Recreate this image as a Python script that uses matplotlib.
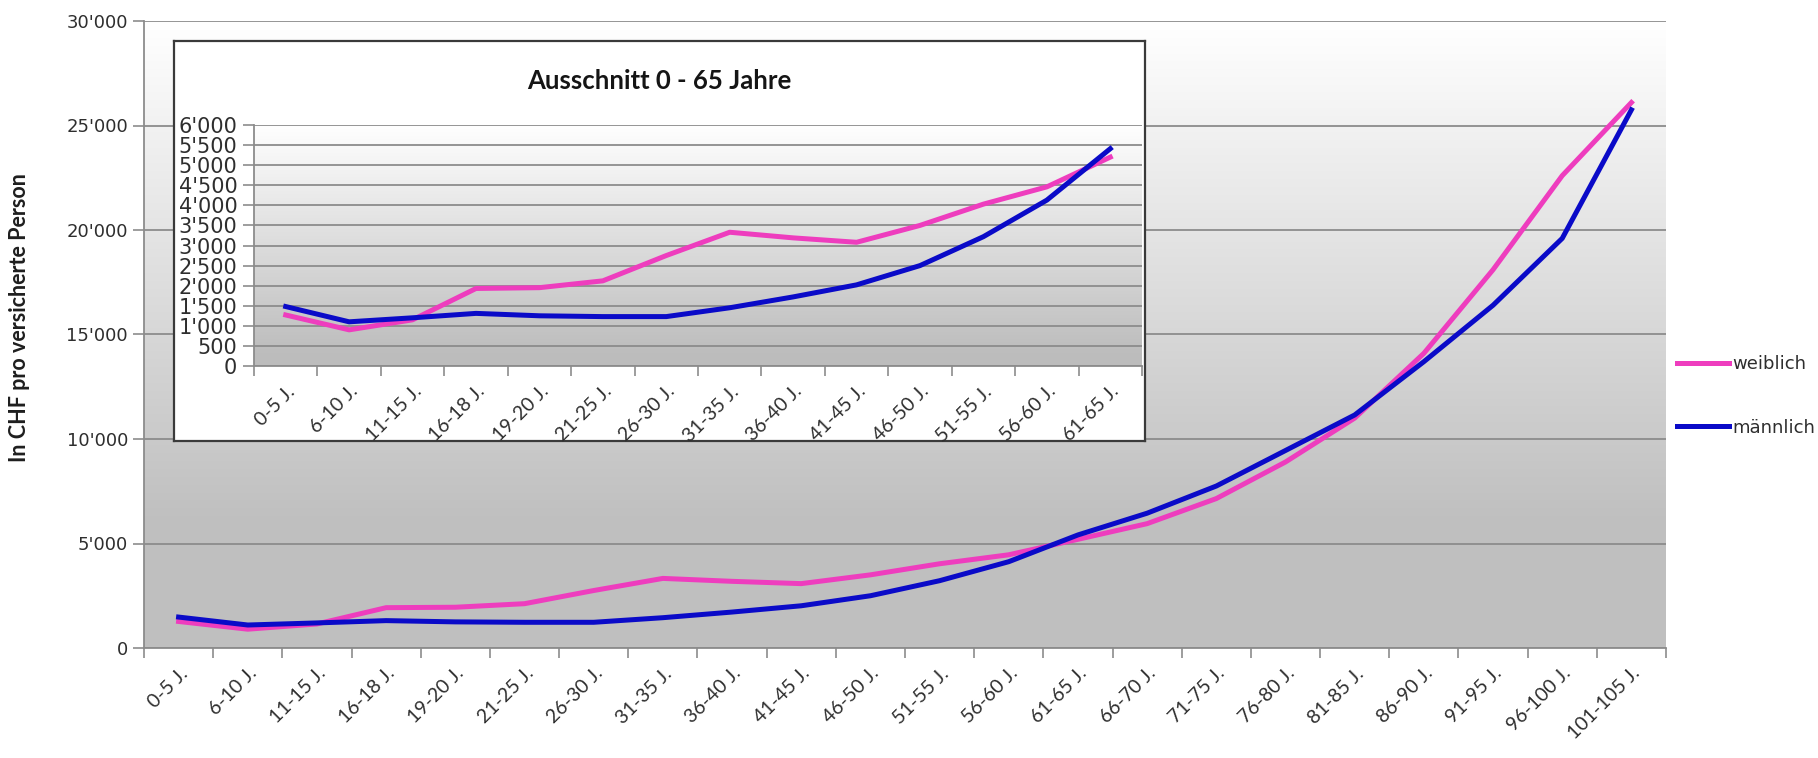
import numpy as np
import matplotlib.pyplot as plt
from matplotlib.ticker import FuncFormatter

# Altersgruppen und Kosten in CHF pro versicherte Person
groups = ["0-5 J.", "6-10 J.", "11-15 J.", "16-18 J.", "19-20 J.", "21-25 J.",
          "26-30 J.", "31-35 J.", "36-40 J.", "41-45 J.", "46-50 J.", "51-55 J.",
          "56-60 J.", "61-65 J.", "66-70 J.", "71-75 J.", "76-80 J.", "81-85 J.",
          "86-90 J.", "91-95 J.", "96-100 J.", "101-105 J."]
weiblich = [1270, 900, 1150, 1930, 1950, 2120, 2750, 3330, 3190, 3080, 3500,
            4030, 4460, 5200, 5950, 7150, 8900, 11000, 14100, 18100, 22600, 26100]
maennlich = [1480, 1100, 1200, 1310, 1250, 1230, 1230, 1450, 1720, 2020, 2500,
             3220, 4130, 5410, 6450, 7750, 9450, 11150, 13700, 16400, 19600, 25750]
n_inset = 14  # Ausschnitt 0 - 65 Jahre

PINK = "#ee3dbe"
BLUE = "#0a0ac8"
GRID = "#8c8c8c"
TEXT = "#2e2e2e"

plt.rcParams['font.family'] = ['DejaVu Sans']

W, H = 1818, 758
fig = plt.figure(figsize=(W / 100, H / 100), dpi=100)


def box(l, t, r, b):
    return [l / W, 1 - b / H, (r - l) / W, (b - t) / H]


def swiss(v, pos=None):
    return f"{int(round(v)):,}".replace(",", "'")


def gradient(ax, low=0.75, stop=0.2):
    f = np.linspace(0, 1, 300)
    g = np.clip(low + (1 - low) * (f - stop) / (1 - stop), low, 1)
    img = np.repeat(g[:, None], 3, axis=1)[:, None, :]
    ax.imshow(img, extent=(0, 1, 0, 1), transform=ax.transAxes,
              origin='lower', aspect='auto', zorder=0)


def style_axes(ax, n, ymax, ystep, labels):
    x = np.arange(n)
    ax.set_xlim(-0.5, n - 0.5)
    ax.set_ylim(0, ymax)
    ax.set_yticks(np.arange(0, ymax + 1, ystep))
    ax.yaxis.set_major_formatter(FuncFormatter(swiss))
    ax.set_xticks(np.arange(n + 1) - 0.5)
    ax.set_xticklabels([])
    ax.set_xticks(x, minor=True)
    ax.set_xticklabels(labels, minor=True, family='Lato', fontsize=14,
                       color=TEXT)
    for lbl in ax.get_xticklabels(minor=True):
        lbl.set_rotation(45)
        lbl.set_ha('right')
        lbl.set_rotation_mode('anchor')
    ax.tick_params(axis='x', which='major', length=7, color=GRID, width=1.2)
    ax.tick_params(axis='x', which='minor', length=0, pad=12)
    ax.tick_params(axis='y', length=8, color=GRID, width=1.2,
                   labelcolor=TEXT)
    ax.yaxis.grid(True, color=GRID, lw=1.3)
    ax.set_axisbelow(True)
    for s in ['top', 'right']:
        ax.spines[s].set_visible(False)
    for s in ['left', 'bottom']:
        ax.spines[s].set_color(GRID)
        ax.spines[s].set_linewidth(1.3)


# Hauptdiagramm
ax = fig.add_axes(box(144, 21, 1666, 648))
gradient(ax)
x = np.arange(len(groups))
ax.plot(x, weiblich, color=PINK, lw=3.6, label='weiblich', zorder=3)
ax.plot(x, maennlich, color=BLUE, lw=3.6, label='männlich', zorder=3)
style_axes(ax, len(groups), 30000, 5000, groups)
ax.tick_params(axis='y', labelsize=13)
fig.text(20 / W, 1 - 318 / H, "In CHF pro versicherte Person", rotation=90,
         ha='center', va='center', family='Lato', fontweight='bold',
         fontsize=15.5, color='#1e1e1e')

leg = fig.legend(loc='center left', bbox_to_anchor=(1668 / W, 1 - 396 / H),
                 frameon=False, fontsize=13, handlelength=2.9,
                 handletextpad=0.15, labelspacing=2.5, borderpad=0,
                 labelcolor=TEXT)

# Ausschnitt
ax_box = fig.add_axes(box(174, 41, 1145, 441))
ax_box.set_xticks([])
ax_box.set_yticks([])
ax_box.set_facecolor('white')
for s in ax_box.spines.values():
    s.set_color('#3a3a3a')
    s.set_linewidth(1.6)
ax_box.text(0.5, (441 - 81) / (441 - 41), "Ausschnitt 0 - 65 Jahre",
            transform=ax_box.transAxes, ha='center', va='center',
            family='Lato', fontweight='bold', fontsize=18.5, color='#151515')

ax_in = fig.add_axes(box(254, 125, 1142, 366))
gradient(ax_in, low=0.74, stop=0.05)
xi = np.arange(n_inset)
ax_in.plot(xi, weiblich[:n_inset], color=PINK, lw=3.6, zorder=3)
ax_in.plot(xi, maennlich[:n_inset], color=BLUE, lw=3.6, zorder=3)
style_axes(ax_in, n_inset, 6000, 500, groups[:n_inset])
ax_in.tick_params(axis='y', labelsize=15, pad=4)

fig.savefig("out.png", dpi=100)
